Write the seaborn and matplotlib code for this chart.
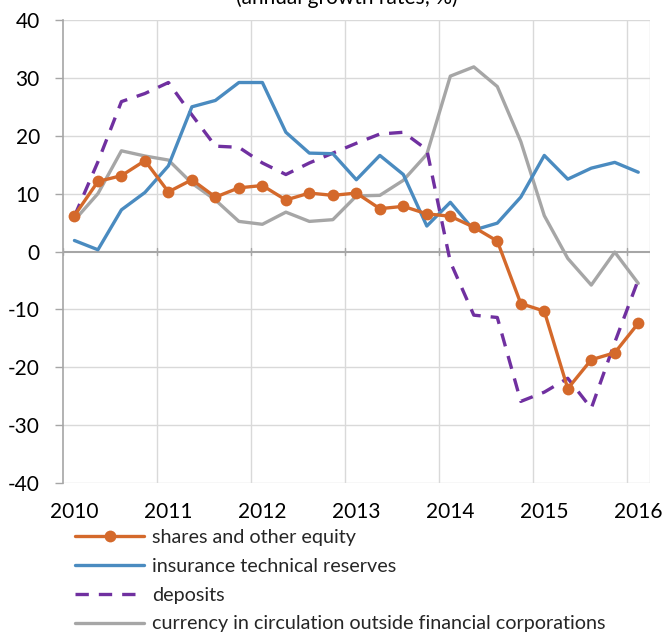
import matplotlib
matplotlib.use("Agg")
import matplotlib.pyplot as plt
import seaborn as sns
import pandas as pd
import numpy as np

# ---- data ----
quarters = [f"{y}Q{q}" for y in range(2010, 2017) for q in range(1, 5)][:25]
shares = [6.2, 12.1, 13.1, 15.7, 10.3, 12.4, 9.4, 11.0, 11.4, 8.9, 10.1, 9.7, 10.1,
          7.4, 7.8, 6.5, 6.1, 4.2, 1.8, -9.0, -10.3, -23.7, -18.7, -17.5, -12.4]
insurance = [1.9, 0.3, 7.2, 10.2, 14.8, 25.0, 26.1, 29.2, 29.2, 20.6, 17.0, 16.9, 12.4,
             16.6, 13.3, 4.4, 8.5, 3.7, 4.9, 9.4, 16.6, 12.5, 14.4, 15.4, 13.7]
deposits = [6.1, 15.5, 25.9, 27.3, 29.2, 23.6, 18.2, 18.0, 15.3, 13.3, 15.3, 17.0, 18.7,
            20.3, 20.6, 17.6, -1.8, -11.0, -11.4, -25.9, -24.3, -21.9, -27.1, -15.7, -4.9]
currency = [5.4, 10.0, 17.4, 16.5, 15.8, 11.8, 8.9, 5.2, 4.7, 6.8, 5.2, 5.5, 9.6,
            9.7, 12.3, 16.8, 30.3, 31.9, 28.5, 19.0, 6.2, -1.2, -5.8, -0.1, -5.5]
series_names = ["shares and other equity", "insurance technical reserves", "deposits",
                "currency in circulation outside financial corporations"]
year_ticks = [2010, 2011, 2012, 2013, 2014, 2015, 2016]
y_ticks = [-40, -30, -20, -10, 0, 10, 20, 30, 40]
title = "(annual growth rates; %)"

# positions: middle of each quarter on a date-like axis
xpos = [int(q[:4]) + (int(q[-1]) - 1) * 0.25 + 0.125 for q in quarters]

df = pd.DataFrame({
    "x": xpos * 4,
    "value": shares + insurance + deposits + currency,
    "series": sum([[n] * len(xpos) for n in series_names], []),
})

sns.set_theme(style="white")
plt.rcParams["font.family"] = ["Lato", "DejaVu Sans"]

fig = plt.figure(figsize=(6.64, 6.34), dpi=100)
ax = fig.add_axes([62.7 / 664, 1 - 483 / 634, (650 - 62.7) / 664, (483 - 20) / 634])

colors = ["#D4692B", "#4A8BC0", "#7030A0", "#A6A6A6"]
styles = [dict(marker="o", markersize=8.5, linestyle="-"),
          dict(linestyle="-"),
          dict(linestyle=(0, (4, 3))),
          dict(linestyle="-")]
zorders = [5, 4, 3, 2]
handles = []
for name, c, st, z in zip(series_names, colors, styles, zorders):
    sub = df[df["series"] == name]
    sns.lineplot(data=sub, x="x", y="value", ax=ax, color=c, linewidth=2.4,
                 markeredgewidth=0, zorder=z, legend=False, **st)
    handles.append(ax.lines[-1])

ax.set_xlim(2010, 2016.25)
ax.set_ylim(-40, 40)
# date-axis style labels: each year label sits at its first (mid-quarter) point
ax.set_xticks([y + 0.125 for y in year_ticks])
ax.set_xticklabels([str(y) for y in year_ticks])
ax.set_yticks(y_ticks)
ax.set_yticklabels([str(v) for v in y_ticks])
ax.set_xlabel("")
ax.set_ylabel("")

# grid
for v in y_ticks:
    if v != 0:
        ax.axhline(v, color="#D9D9D9", linewidth=1.0, zorder=0)
for yr in year_ticks[1:] + [2016.25]:
    ax.axvline(yr, color="#D9D9D9", linewidth=1.0, zorder=0)
# zero axis with crossing ticks
ax.axhline(0, color="#A6A6A6", linewidth=1.5, zorder=1)
for yr in year_ticks:
    ax.plot([yr, yr], [-0.6, 0.6], color="#A6A6A6", linewidth=1.0, zorder=1)

for s in ["top", "right", "bottom"]:
    ax.spines[s].set_visible(False)
ax.spines["left"].set_color("#A6A6A6")
ax.spines["left"].set_linewidth(1.2)
ax.tick_params(axis="y", which="both", left=True, length=5.5, width=1.0,
               color="#A6A6A6", labelsize=15, pad=11)
ax.tick_params(axis="x", which="both", bottom=False, labelsize=15, pad=8)
for lab in ax.get_xticklabels() + ax.get_yticklabels():
    lab.set_color("#000000")

fig.text(0.523, 1.003, title, ha="center", va="center", fontsize=15, color="#000000")

fig.legend(handles, series_names, loc="upper left",
           bbox_to_anchor=(75 / 664, 1 - 529 / 634), frameon=False,
           fontsize=14.2, handlelength=3.5, handletextpad=0.4, labelspacing=0.6,
           borderaxespad=0, borderpad=0)

fig.savefig("out.png", dpi=100)
